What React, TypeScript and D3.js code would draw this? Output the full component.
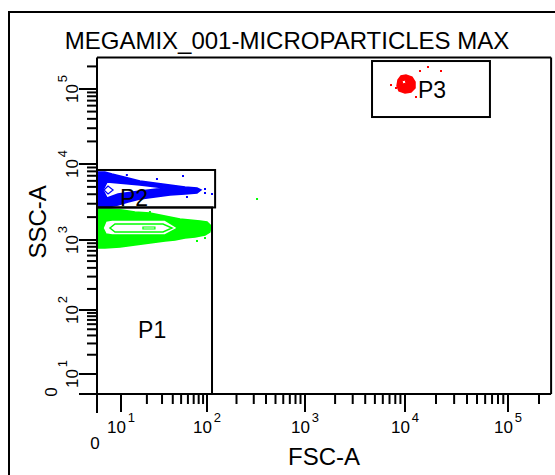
import React from "react";
import * as d3 from "d3";

// ---------- data (FSC-A, SSC-A values) ----------
const title = "MEGAMIX_001-MICROPARTICLES MAX";
const xLabel = "FSC-A";
const yLabel = "SSC-A";
const decades = [1, 2, 3, 4, 5];
const maxValue = 262144;

// gates: [xMin, xMax, yMin, yMax]
const gateNames = ["P1", "P2", "P3"];
const gateBounds: number[][] = [
  [0, 112.5, 0, 2680],
  [0, 121, 2680, 8340],
  [4680, 66800, 42300, 236000],
];
// label anchor for each gate [fsc, ssc]
const gateLabelAt: number[][] = [
  [15.8, 36.5],
  [9.6, 2800],
  [13370, 75900],
];

// P1 (green) population contours
const greenOuter: number[][] = [
  [0, 2558], [5.4, 2558], [10.3, 2481], [14.5, 2336], [21.7, 2266], [28.4, 2133],
  [37.1, 2007], [48.5, 1889], [63.4, 1833], [82.9, 1778], [100, 1725], [110, 1528],
  [107, 1274], [94.8, 1164], [72.5, 1095], [55.5, 1062], [42.5, 1000], [32.5, 968],
  [21.7, 906], [14.5, 848], [9.6, 794], [3.3, 769], [0, 769],
];
const greenRingA: number[][] = [
  [2.5, 1438], [3.75, 1778], [6.25, 1833], [32.5, 1833], [46.0, 1438],
  [32.5, 1164], [6.25, 1164], [3.75, 1199],
];
const greenRingB: number[][] = [
  [5.4, 1438], [7.5, 1624], [30.8, 1624], [39.2, 1438], [30.8, 1274], [7.5, 1274],
];
const greenRingC: number[][] = [
  [18.0, 1483], [24.8, 1483], [24.8, 1395], [18.0, 1395],
];
const greenDots: number[][] = [
  [11.7, 2198], [21.7, 2336], [76.5, 968], [324, 3463], [94.8, 1062],
];

// P2 (blue) population contours
const blueOuter: number[][] = [
  [0, 7850], [3.3, 7850], [6.25, 7385], [9.6, 6950], [12.1, 6545], [16.6, 5975],
  [24.8, 5623], [37.1, 5292], [55.5, 4983], [76.5, 4833], [85.1, 4549], [76.5, 4153],
  [55.5, 4030], [37.1, 3909], [24.8, 3680], [16.6, 3463], [12.1, 3162], [8.75, 2887],
  [4.6, 2718], [0, 2718],
];
const blueRingA: number[][] = [
  [2.5, 4549], [4.2, 5800], [8.75, 5623], [16.6, 5292], [32.5, 4833],
  [16.6, 4413], [8.75, 4030], [4.2, 3569],
];
const blueRingB: number[][] = [
  [2.9, 4549], [4.6, 5135], [6.7, 4549], [4.6, 4030],
];
const blueDots: number[][] = [
  [11.7, 7166], [26.2, 6349], [52.6, 6950], [94.8, 4690], [94.8, 4153], [112.5, 4030], [58.5, 3680],
];

// P3 (red) population contours
const redOuter: number[][] = [
  [8511, 131800], [9120, 149100], [10226, 153700], [11690, 144500], [12510, 124000],
  [12510, 103100], [11440, 91200], [10000, 88400], [8710, 94000], [8318, 109600],
];
const redInner: number[][] = [
  [9333, 127900], [10000, 131800], [10226, 120200], [9550, 116600],
];
const redDots: number[][] = [
  [13980, 173800], [16720, 196500], [22360, 173800], [7244, 113000], [8128, 103100], [12790, 78200],
];

// ---------- scales ----------
const toDecade = (v: number) => (v <= 10 ? v / 10 : Math.log10(v));
const xLin = d3.scaleLinear().domain([0, 1, 2, 3, 4, 5]).range([97, 121, 207, 305, 405, 508]);
const yLin = d3.scaleLinear().domain([0, 1, 2, 3, 4, 5]).range([394, 374, 310, 240, 164, 89]);
const xs = (v: number) => xLin(toDecade(v));
const ys = (v: number) => yLin(toDecade(v));

const FONT = "'Liberation Sans', Arial, sans-serif";

const ringPath = (pts: number[][]) =>
  d3
    .line<number[]>()
    .x((d) => xs(d[0]))
    .y((d) => ys(d[1]))
    .curve(d3.curveLinearClosed)(pts) || "";

export default function App() {
  const plotLeft = xs(0);
  const plotBottom = ys(0);
  const plotRight = xs(maxValue);
  const plotTop = ys(maxValue);

  const minorTicks: number[] = [];
  for (let k = 1; k <= 5; k++) {
    for (let m = 2; m <= 9; m++) {
      const v = m * Math.pow(10, k);
      if (v <= maxValue) minorTicks.push(v);
    }
  }

  const MAJ = 18;
  const MIN = 10;

  return (
    <svg
      width={555}
      height={475}
      style={{ position: "absolute", left: 0, top: 0, background: "#fff" }}
      fontFamily={FONT}
    >
      {/* outer frame */}
      <rect x={9} y={12} width={600} height={520} fill="none" stroke="#000" strokeWidth={2} />

      {/* title */}
      <text x={287} y={49} textAnchor="middle" fontSize={24} fill="#000">
        {title}
      </text>

      {/* populations */}
      <g>
        <path d={ringPath(greenOuter)} fill="#00ff00" stroke="#00ff00" strokeWidth={1.5} />
        <path d={ringPath(greenRingA)} fill="#fff" stroke="#00ff00" strokeWidth={1.5} />
        <path d={ringPath(greenRingB)} fill="none" stroke="#00ff00" strokeWidth={1.5} />
        <path d={ringPath(greenRingC)} fill="none" stroke="#00ff00" strokeWidth={1.2} />
        {greenDots.map((d, i) => (
          <rect key={"g" + i} x={xs(d[0]) - 1} y={ys(d[1]) - 1} width={2} height={2} fill="#00ff00" />
        ))}
        <path d={ringPath(blueOuter)} fill="#0000ff" stroke="#0000ff" strokeWidth={1.5} />
        <path d={ringPath(blueRingA)} fill="#fff" stroke="#0000ff" strokeWidth={1.5} />
        <path d={ringPath(blueRingB)} fill="none" stroke="#0000ff" strokeWidth={1.2} />
        {blueDots.map((d, i) => (
          <rect key={"b" + i} x={xs(d[0]) - 1} y={ys(d[1]) - 1} width={2} height={2} fill="#0000ff" />
        ))}
        <path d={ringPath(redOuter)} fill="#ff0000" stroke="#ff0000" strokeWidth={1.5} />
        <path d={ringPath(redInner)} fill="#fff" stroke="#ff0000" strokeWidth={1} />
        {redDots.map((d, i) => (
          <rect key={"r" + i} x={xs(d[0]) - 1} y={ys(d[1]) - 1} width={2} height={2} fill="#ff0000" />
        ))}
      </g>

      {/* gates */}
      {gateBounds.map((g, i) => (
        <rect
          key={gateNames[i]}
          x={xs(g[0])}
          y={ys(g[3])}
          width={xs(g[1]) - xs(g[0])}
          height={ys(g[2]) - ys(g[3])}
          fill="none"
          stroke="#000"
          strokeWidth={2}
        />
      ))}
      {gateNames.map((n, i) => (
        <text key={"l" + n} x={xs(gateLabelAt[i][0])} y={ys(gateLabelAt[i][1])} fontSize={23} fill="#000">
          {n}
        </text>
      ))}

      {/* plot frame */}
      <line x1={plotLeft} x2={plotRight} y1={plotTop} y2={plotTop} stroke="#000" strokeWidth={2} />
      <line x1={plotRight} x2={plotRight} y1={plotTop} y2={plotBottom} stroke="#000" strokeWidth={2} />
      {/* axes with zero ticks crossing */}
      <line x1={plotLeft - MAJ} x2={plotRight} y1={plotBottom} y2={plotBottom} stroke="#000" strokeWidth={2} />
      <line x1={plotLeft} x2={plotLeft} y1={plotTop} y2={plotBottom + MAJ + 1} stroke="#000" strokeWidth={2} />

      {/* x ticks */}
      {decades.map((k) => (
        <line key={"xM" + k} x1={xs(10 ** k)} x2={xs(10 ** k)} y1={plotBottom} y2={plotBottom + MAJ} stroke="#000" strokeWidth={2} />
      ))}
      {minorTicks.map((v) => (
        <line key={"xm" + v} x1={xs(v)} x2={xs(v)} y1={plotBottom} y2={plotBottom + MIN} stroke="#000" strokeWidth={2} />
      ))}
      {/* y ticks */}
      {decades.map((k) => (
        <line key={"yM" + k} x1={plotLeft - MAJ} x2={plotLeft} y1={ys(10 ** k)} y2={ys(10 ** k)} stroke="#000" strokeWidth={2} />
      ))}
      {minorTicks.map((v) => (
        <line key={"ym" + v} x1={plotLeft - MIN} x2={plotLeft} y1={ys(v)} y2={ys(v)} stroke="#000" strokeWidth={2} />
      ))}

      {/* x tick labels */}
      <text x={xs(0) - 2} y={449} textAnchor="middle" fontSize={17}>0</text>
      {decades.map((k) => (
        <text key={"xl" + k} x={xs(10 ** k)} y={433} textAnchor="middle" fontSize={17}>
          10
          <tspan dx={2} dy={-11} fontSize={13}>
            {k}
          </tspan>
        </text>
      ))}
      {/* y tick labels */}
      <text transform={`translate(57,${ys(0) - 2}) rotate(-90)`} textAnchor="middle" fontSize={17}>0</text>
      {decades.map((k) => (
        <text key={"yl" + k} transform={`translate(78,${ys(10 ** k)}) rotate(-90)`} textAnchor="middle" fontSize={17}>
          10
          <tspan dx={2} dy={-11} fontSize={13}>
            {k}
          </tspan>
        </text>
      ))}

      {/* axis titles */}
      <text x={(plotLeft + plotRight) / 2} y={465} textAnchor="middle" fontSize={24}>
        {xLabel}
      </text>
      <text transform={`translate(46,${(plotTop + plotBottom) / 2 - 4}) rotate(-90)`} textAnchor="middle" fontSize={24}>
        {yLabel}
      </text>
    </svg>
  );
}
